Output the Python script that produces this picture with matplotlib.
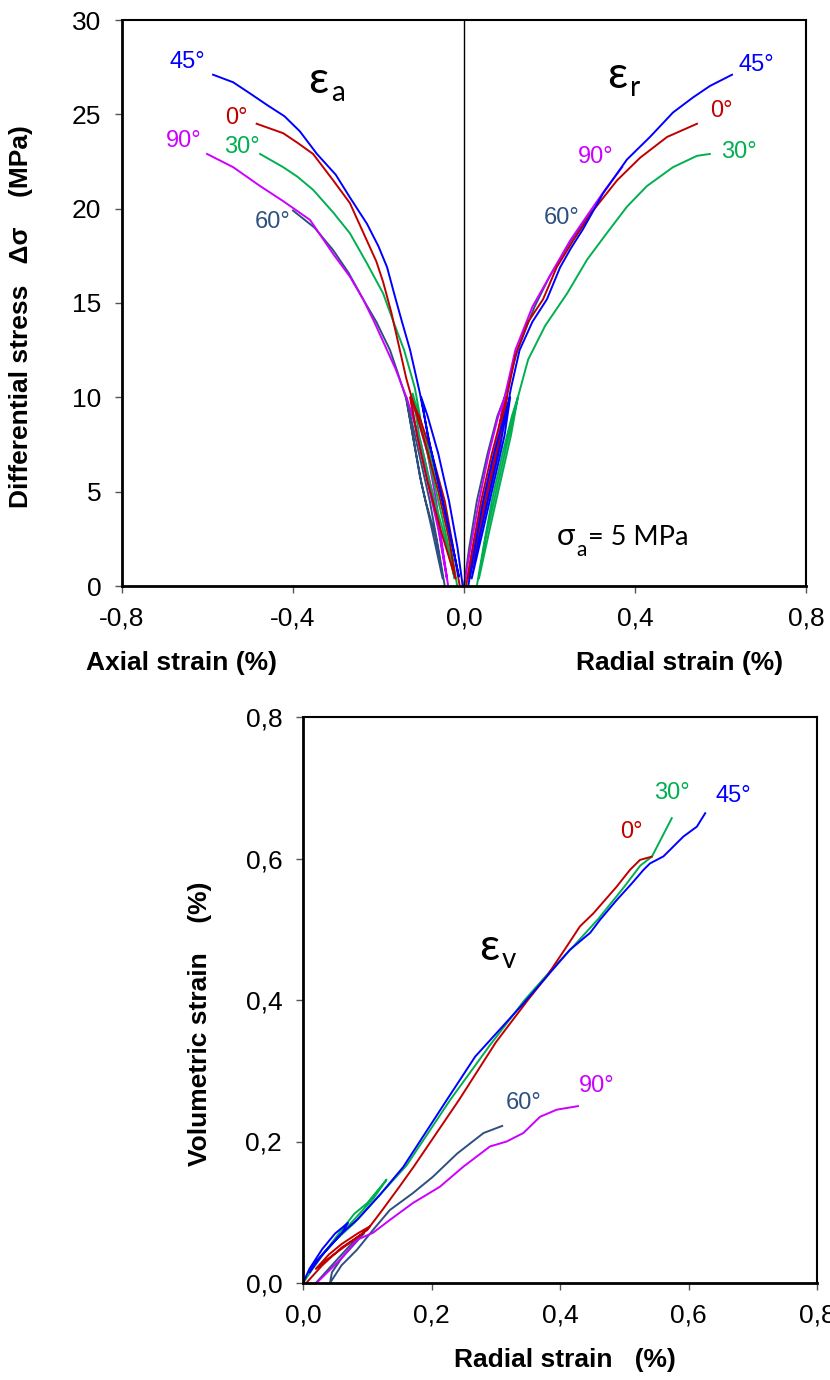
import matplotlib
matplotlib.use("Agg")
import matplotlib.pyplot as plt

# ---------------- data ----------------
angles = ['0°', '30°', '45°', '60°', '90°']
colors = {'0°': '#C00000', '30°': '#00B050', '45°': '#0000FF', '60°': '#2E5080', '90°': '#CC00FF'}

# Top panel: axial strain (negative side), differential stress (MPa)
ax0_eps = [-0.01, -0.025, -0.045, -0.075, -0.105, -0.126, -0.11, -0.085, -0.055, -0.02, -0.035, -0.06, -0.09, -0.12, -0.135, -0.15, -0.17, -0.189, -0.205, -0.227, -0.267, -0.306, -0.353, -0.39, -0.423, -0.485]
ax0_sig = [0, 2, 4.5, 7, 9, 10, 8, 5.5, 3, 0.4, 2.5, 5, 7.5, 9.8, 11, 12.5, 14.5, 16.1, 17.2, 18.3, 20.3, 21.5, 22.9, 23.5, 24.0, 24.5]
ax30_eps = [-0.016, -0.03, -0.05, -0.08, -0.105, -0.12, -0.105, -0.08, -0.05, -0.022, -0.04, -0.065, -0.095, -0.115, -0.14, -0.165, -0.189, -0.227, -0.267, -0.306, -0.353, -0.39, -0.423, -0.477]
ax30_sig = [0, 2, 4.5, 7, 9, 10.2, 8, 5.5, 3, 0.4, 2.5, 5, 8, 10.5, 12.5, 14, 15.5, 17.1, 18.7, 19.8, 21.0, 21.7, 22.2, 22.9]
ax45_eps = [-0.003, -0.015, -0.035, -0.06, -0.085, -0.1, -0.085, -0.06, -0.035, -0.012, -0.03, -0.055, -0.08, -0.103, -0.126, -0.145, -0.161, -0.18, -0.2, -0.227, -0.267, -0.30, -0.344, -0.384, -0.42, -0.461, -0.50, -0.54, -0.587]
ax45_sig = [0, 2, 4.5, 7, 9, 10, 8, 5.5, 3, 0.5, 2.5, 5, 7.5, 10.2, 12.5, 14, 15.3, 16.9, 18, 19.2, 20.6, 21.8, 22.9, 24.1, 24.9, 25.5, 26.1, 26.7, 27.1]
ax60_eps = [-0.045, -0.06, -0.08, -0.1, -0.12, -0.135, -0.12, -0.1, -0.075, -0.05, -0.065, -0.09, -0.103, -0.12, -0.135, -0.155, -0.173, -0.205, -0.236, -0.27, -0.306, -0.35, -0.40]
ax60_sig = [0, 2, 4.5, 6.5, 8.5, 10, 8, 5.5, 3, 0.4, 2.5, 4.5, 5.8, 8, 9.9, 11.3, 12.5, 14, 15.2, 16.6, 17.8, 19, 19.9]
ax90_eps = [-0.037, -0.05, -0.065, -0.085, -0.11, -0.125, -0.11, -0.085, -0.06, -0.04, -0.055, -0.075, -0.1, -0.133, -0.16, -0.18, -0.21, -0.236, -0.267, -0.306, -0.36, -0.423, -0.477, -0.54, -0.601]
ax90_sig = [0, 2, 4.5, 7, 9, 10, 8, 5.5, 3, 0.4, 2.5, 5, 7.5, 9.9, 11.5, 12.5, 14, 15.2, 16.4, 17.6, 19.4, 20.4, 21.2, 22.2, 22.9]

# Top panel: radial strain (positive side)
r0_eps = [0.005, 0.02, 0.04, 0.065, 0.088, 0.1, 0.088, 0.065, 0.04, 0.012, 0.03, 0.055, 0.08, 0.1, 0.12, 0.15, 0.185, 0.217, 0.255, 0.302, 0.358, 0.412, 0.475, 0.545]
r0_sig = [0, 2, 4.5, 7, 9, 10, 8, 5.5, 3, 0.4, 2.5, 5, 7.5, 10, 12.2, 14, 15.2, 16.9, 18.3, 19.9, 21.5, 22.7, 23.8, 24.5]
r30_eps = [0.03, 0.045, 0.065, 0.09, 0.112, 0.126, 0.11, 0.085, 0.06, 0.035, 0.05, 0.075, 0.1, 0.126, 0.15, 0.19, 0.241, 0.288, 0.334, 0.381, 0.428, 0.489, 0.545, 0.575]
r30_sig = [0, 2, 4.5, 7, 9, 10, 8, 5.5, 3, 0.4, 2.5, 5, 7.5, 10, 12, 13.8, 15.5, 17.3, 18.7, 20.1, 21.2, 22.2, 22.8, 22.9]
r45_eps = [0.01, 0.025, 0.045, 0.07, 0.095, 0.108, 0.095, 0.07, 0.045, 0.018, 0.035, 0.06, 0.085, 0.11, 0.13, 0.16, 0.194, 0.225, 0.25, 0.278, 0.325, 0.381, 0.435, 0.489, 0.536, 0.575, 0.627]
r45_sig = [0, 2, 4.5, 7, 9, 10, 8, 5.5, 3, 0.4, 2.5, 5, 7.5, 10.5, 12.5, 14, 15.2, 16.9, 17.9, 18.9, 20.8, 22.6, 23.8, 25.1, 25.9, 26.5, 27.1]
r60_eps = [0.0, 0.012, 0.03, 0.055, 0.078, 0.095, 0.08, 0.06, 0.035, 0.01, 0.025, 0.05, 0.075, 0.095, 0.125, 0.165, 0.2, 0.25, 0.3]
r60_sig = [0, 2, 4.5, 7, 9, 10, 8, 5.5, 3, 0.4, 2.5, 5, 7.5, 10, 12.5, 14.8, 16.4, 18.3, 19.9]
r90_eps = [0.0, 0.015, 0.035, 0.058, 0.08, 0.095, 0.08, 0.058, 0.035, 0.008, 0.025, 0.05, 0.075, 0.095, 0.12, 0.16, 0.2, 0.248, 0.29, 0.33, 0.37]
r90_sig = [0, 2, 4.5, 7, 9, 10, 8, 5.5, 3, 0.4, 2.5, 5, 7.5, 10, 12.5, 14.8, 16.4, 18.3, 19.7, 21.0, 22.2]

# Bottom panel: radial strain (%) vs volumetric strain (%)
v0_x = [0.005, 0.03, 0.06, 0.09, 0.104, 0.085, 0.06, 0.04, 0.02, 0.04, 0.07, 0.1, 0.125, 0.15, 0.172, 0.243, 0.3, 0.35, 0.379, 0.41, 0.431, 0.452, 0.488, 0.509, 0.5245, 0.5427]
v0_y = [0, 0.025, 0.05, 0.068, 0.08, 0.07, 0.055, 0.04, 0.02, 0.035, 0.055, 0.075, 0.105, 0.136, 0.164, 0.259, 0.34, 0.4, 0.433, 0.475, 0.504, 0.5225, 0.56, 0.584, 0.598, 0.6026]
v30_x = [0, 0.015, 0.035, 0.06, 0.08, 0.1, 0.13, 0.11, 0.08, 0.05, 0.03, 0.05, 0.08, 0.12, 0.161, 0.229, 0.29, 0.345, 0.384, 0.42, 0.46, 0.5, 0.525, 0.543, 0.574]
v30_y = [0, 0.02, 0.045, 0.075, 0.098, 0.113, 0.146, 0.12, 0.09, 0.06, 0.04, 0.06, 0.085, 0.125, 0.166, 0.2587, 0.335, 0.4, 0.44, 0.475, 0.515, 0.56, 0.59, 0.6026, 0.657]
v45_x = [0, 0.01, 0.03, 0.05, 0.07, 0.06, 0.04, 0.02, 0.01, 0.03, 0.06, 0.085, 0.12, 0.156, 0.224, 0.268, 0.296, 0.343, 0.384, 0.4155, 0.447, 0.462, 0.488, 0.512, 0.53, 0.54, 0.561, 0.571, 0.592, 0.613, 0.626]
v45_y = [0, 0.02, 0.048, 0.07, 0.085, 0.07, 0.05, 0.03, 0.015, 0.04, 0.07, 0.09, 0.125, 0.164, 0.259, 0.32, 0.348, 0.395, 0.438, 0.471, 0.495, 0.513, 0.541, 0.565, 0.584, 0.593, 0.603, 0.612, 0.631, 0.645, 0.664]
v60_x = [0.02, 0.035, 0.055, 0.075, 0.095, 0.08, 0.06, 0.045, 0.042, 0.06, 0.084, 0.109, 0.135, 0.171, 0.202, 0.24, 0.281, 0.31]
v60_y = [0, 0.015, 0.035, 0.055, 0.07, 0.055, 0.035, 0.015, 0, 0.025, 0.047, 0.075, 0.103, 0.127, 0.15, 0.183, 0.212, 0.222]
v90_x = [0.021, 0.058, 0.084, 0.109, 0.135, 0.171, 0.213, 0.249, 0.291, 0.317, 0.343, 0.369, 0.395, 0.428]
v90_y = [0, 0.033, 0.061, 0.071, 0.089, 0.113, 0.136, 0.164, 0.193, 0.2, 0.212, 0.235, 0.245, 0.25]

top_xticks = [-0.8, -0.4, 0.0, 0.4, 0.8]
top_xticklabels = ['-0,8', '-0,4', '0,0', '0,4', '0,8']
top_yticks = [0, 5, 10, 15, 20, 25, 30]
bot_ticks = [0.0, 0.2, 0.4, 0.6, 0.8]
bot_ticklabels = ['0,0', '0,2', '0,4', '0,6', '0,8']

axial = {'0°': (ax0_eps, ax0_sig), '30°': (ax30_eps, ax30_sig), '45°': (ax45_eps, ax45_sig),
         '60°': (ax60_eps, ax60_sig), '90°': (ax90_eps, ax90_sig)}
radial = {'0°': (r0_eps, r0_sig), '30°': (r30_eps, r30_sig), '45°': (r45_eps, r45_sig),
          '60°': (r60_eps, r60_sig), '90°': (r90_eps, r90_sig)}
volum = {'0°': (v0_x, v0_y), '30°': (v30_x, v30_y), '45°': (v45_x, v45_y),
         '60°': (v60_x, v60_y), '90°': (v90_x, v90_y)}

# ---------------- figure ----------------
W, H = 830, 1380
plt.rcParams['font.family'] = ['Liberation Sans', 'DejaVu Sans']
fig = plt.figure(figsize=(W / 100, H / 100), dpi=100)

def fx(x):
    return x / W

def fy(y):
    return 1 - y / H

def style_axes(ax):
    for s in ['left', 'bottom']:
        ax.spines[s].set_linewidth(2.0)
    for s in ['top', 'right']:
        ax.spines[s].set_linewidth(1.5)
    ax.tick_params(direction='out', length=5, width=1, color='#555555',
                   labelsize=19, pad=10, top=False, right=False)

# Top panel
axT = fig.add_axes([fx(122), fy(586), fx(806) - fx(122), fy(20) - fy(586)])
draw_order = ['60°', '90°', '30°', '0°', '45°']
for a in draw_order:
    e, s = axial[a]
    axT.plot(e, s, color=colors[a], lw=1.4)
    e, s = radial[a]
    axT.plot(e, s, color=colors[a], lw=1.4)
axT.axvline(0, color='black', lw=1.0)
axT.set_xlim(-0.8, 0.8)
axT.set_ylim(0, 30)
axT.set_xticks(top_xticks)
axT.set_xticklabels(top_xticklabels)
axT.set_yticks(top_yticks)
style_axes(axT)

# Bottom panel
axB = fig.add_axes([fx(303), fy(1283), fx(817) - fx(303), fy(717) - fy(1283)])
for a in draw_order:
    x, y = volum[a]
    axB.plot(x, y, color=colors[a], lw=1.4)
axB.set_xlim(0, 0.8)
axB.set_ylim(0, 0.8)
axB.set_xticks(bot_ticks)
axB.set_xticklabels(bot_ticklabels)
axB.set_yticks(bot_ticks)
axB.set_yticklabels(bot_ticklabels)
style_axes(axB)

# ---------------- labels ----------------
bold = dict(fontsize=19, fontweight='bold', ha='center', va='center')
fig.text(fx(181), fy(663), 'Axial strain (%)', **bold)
fig.text(fx(680), fy(663), 'Radial strain (%)', **bold)
fig.text(fx(21), fy(317), 'Differential stress   Δσ    (MPa)', rotation=90, **bold)
fig.text(fx(200), fy(1024), 'Volumetric strain    (%)', rotation=90, **bold)
fig.text(fx(565), fy(1360), 'Radial strain   (%)', **bold)

deg = dict(fontsize=17, ha='center', va='center')
top_labels = [('45°', 187, 62), ('0°', 236, 118), ('90°', 184, 141), ('30°', 242, 147), ('60°', 273, 222),
              ('45°', 756, 65), ('0°', 721, 111), ('90°', 596, 157), ('30°', 739, 152), ('60°', 562, 218)]
for t, x, y in top_labels:
    fig.text(fx(x), fy(y), t, color=colors[t], **deg)
bot_labels = [('30°', 672, 793), ('45°', 733, 796), ('0°', 631, 832), ('60°', 524, 1103), ('90°', 597, 1086)]
for t, x, y in bot_labels:
    fig.text(fx(x), fy(y), t, color=colors[t], **deg)

cal = ['Lato', 'DejaVu Sans']
def eps_label(x, y, sub):
    fig.text(fx(x), fy(y), 'ε', fontsize=32, family=cal, ha='center', va='baseline')
    fig.text(fx(x + 13), fy(y + 8), sub, fontsize=20, family=cal, ha='left', va='baseline')

eps_label(318, 93, 'a')
eps_label(617, 88, 'r')
eps_label(489, 960, 'v')

fig.text(fx(557), fy(545), 'σ', fontsize=22, family=cal, ha='left', va='baseline')
fig.text(fx(576), fy(556), 'a', fontsize=15, family=cal, ha='left', va='baseline')
fig.text(fx(588), fy(545), '= 5 MPa', fontsize=19.5, family=cal, ha='left', va='baseline')

fig.savefig('out.png', dpi=100)
